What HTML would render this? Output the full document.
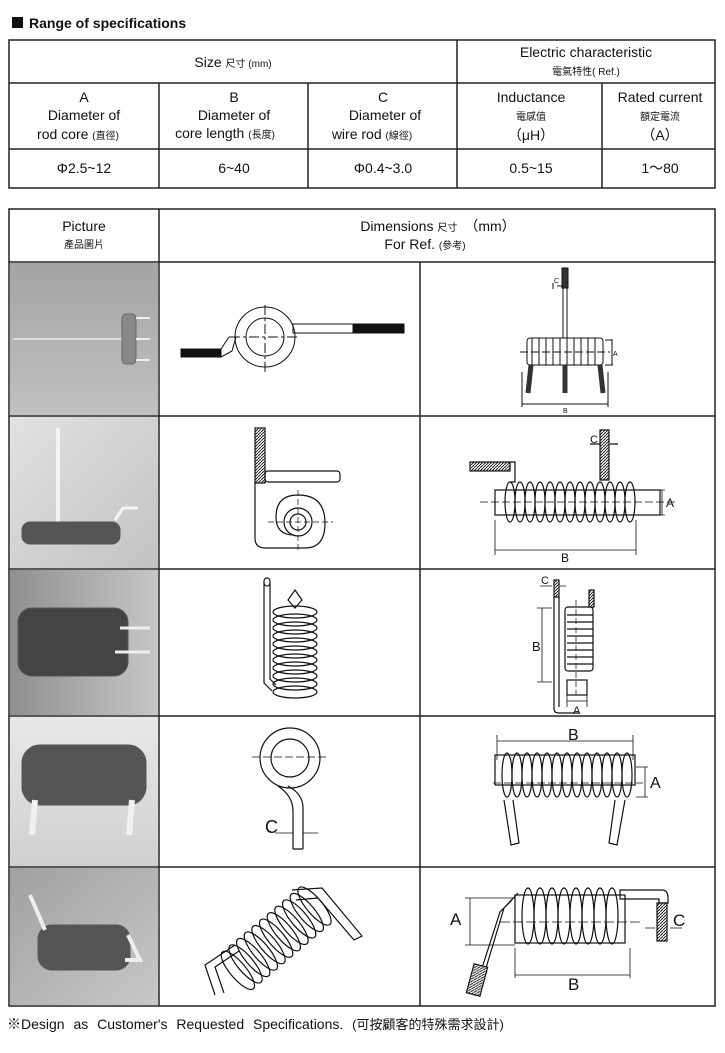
<!DOCTYPE html>
<html><head><meta charset="utf-8"><style>
html,body{margin:0;padding:0;background:#fff;}
svg{display:block;}
text{font-family:"Liberation Sans","Noto Sans CJK TC",sans-serif;fill:#111;stroke:none;}
.s{font-size:10px;}
.m{font-size:14px;}
</style></head><body>
<svg width="725" height="1053" viewBox="0 0 725 1053" xmlns="http://www.w3.org/2000/svg">
<defs>
<linearGradient id="g1" x1="0" y1="0" x2="0" y2="1"><stop offset="0" stop-color="#a4a4a4"/><stop offset="1" stop-color="#c0c0c0"/></linearGradient>
<linearGradient id="g2" x1="0" y1="0" x2="1" y2="1"><stop offset="0" stop-color="#e2e2e2"/><stop offset="1" stop-color="#c2c2c2"/></linearGradient>
<linearGradient id="g3" x1="0" y1="0" x2="1" y2="0"><stop offset="0" stop-color="#8f8f8f"/><stop offset="1" stop-color="#c6c6c6"/></linearGradient>
<linearGradient id="g4" x1="0" y1="0" x2="0" y2="1"><stop offset="0" stop-color="#e8e8e8"/><stop offset="1" stop-color="#d0d0d0"/></linearGradient>
<linearGradient id="g5" x1="0" y1="0" x2="1" y2="1"><stop offset="0" stop-color="#a0a0a0"/><stop offset="1" stop-color="#c8c8c8"/></linearGradient>
<pattern id="h" width="3" height="3" patternUnits="userSpaceOnUse"><rect width="3" height="3" fill="#fff"/><path d="M0 3L3 0" stroke="#222" stroke-width="1"/></pattern>
</defs>

<rect x="12" y="17" width="11" height="11" fill="#111"/>
<text x="29" y="28" style="font-size:14px;font-weight:bold">Range of specifications</text>

<g stroke="#222" stroke-width="1.5" fill="none">
<rect x="9" y="40" width="706" height="148"/>
<line x1="9" y1="83" x2="715" y2="83"/>
<line x1="9" y1="149" x2="715" y2="149"/>
<line x1="457" y1="40" x2="457" y2="188"/>
<line x1="159" y1="83" x2="159" y2="188"/>
<line x1="308" y1="83" x2="308" y2="188"/>
<line x1="602" y1="83" x2="602" y2="188"/>
</g>
<text x="233" y="67" text-anchor="middle" class="m">Size <tspan class="s">尺寸 (mm)</tspan></text>
<text x="586" y="57" text-anchor="middle" class="m">Electric characteristic</text>
<text x="586" y="75" text-anchor="middle" class="s">電氣特性( Ref.)</text>
<g class="m" text-anchor="middle">
<text x="84" y="102">A</text><text x="84" y="120">Diameter of</text><text x="78" y="139">rod core <tspan class="s">(直徑)</tspan></text>
<text x="234" y="102">B</text><text x="234" y="120">Diameter of</text><text x="225" y="138">core length <tspan class="s">(長度)</tspan></text>
<text x="383" y="102">C</text><text x="385" y="120">Diameter of</text><text x="372" y="139">wire rod <tspan class="s">(線徑)</tspan></text>
<text x="531" y="102">Inductance</text><text x="531" y="120" class="s">電感值</text><text x="531" y="140">（μH）</text>
<text x="660" y="102">Rated current</text><text x="660" y="120" class="s">額定電流</text><text x="660" y="140">（A）</text>
<text x="84" y="173">Φ2.5~12</text>
<text x="234" y="173">6~40</text>
<text x="383" y="173">Φ0.4~3.0</text>
<text x="531" y="173">0.5~15</text>
<text x="660" y="173">1～80</text>
</g>

<rect x="10" y="263" width="148" height="152" fill="url(#g1)"/>
<rect x="10" y="417" width="148" height="151" fill="url(#g2)"/>
<rect x="10" y="570" width="148" height="145" fill="url(#g3)"/>
<rect x="10" y="717" width="148" height="149" fill="url(#g4)"/>
<rect x="10" y="868" width="148" height="137" fill="url(#g5)"/>
<g stroke="#222" stroke-width="1.5" fill="none">
<rect x="9" y="209" width="706" height="797"/>
<line x1="9" y1="262" x2="715" y2="262"/>
<line x1="9" y1="416" x2="715" y2="416"/>
<line x1="9" y1="569" x2="715" y2="569"/>
<line x1="9" y1="716" x2="715" y2="716"/>
<line x1="9" y1="867" x2="715" y2="867"/>
<line x1="159" y1="209" x2="159" y2="1006"/>
<line x1="420" y1="262" x2="420" y2="1006"/>
</g>
<text x="84" y="231" text-anchor="middle" class="m">Picture</text>
<text x="84" y="248" text-anchor="middle" class="s">產品圖片</text>
<text x="438" y="231" text-anchor="middle" class="m">Dimensions <tspan class="s">尺寸</tspan>　（mm）</text>
<text x="425" y="249" text-anchor="middle" class="m">For Ref. <tspan class="s">(參考)</tspan></text>

<g stroke="#555" fill="none">
<line x1="13" y1="339" x2="140" y2="339" stroke="#ddd" stroke-width="2"/>
<rect x="122" y="314" width="14" height="50" rx="4" fill="#888" stroke="#666"/>
<path d="M136 318h14M136 360h14M136 339h14" stroke="#eee" stroke-width="2"/>
<path d="M58 428v95" stroke="#f4f4f4" stroke-width="4"/>
<rect x="22" y="522" width="98" height="22" rx="8" fill="#555"/>
<path d="M115 520l8-12h15" stroke="#f4f4f4" stroke-width="3"/>
<rect x="18" y="608" width="110" height="68" rx="14" fill="#444"/>
<path d="M120 628h30M115 652h35" stroke="#eee" stroke-width="3"/>
<rect x="22" y="745" width="124" height="60" rx="18" fill="#555"/>
<path d="M35 800l-3 35M132 800l-3 35" stroke="#f0f0f0" stroke-width="6"/>
<rect x="38" y="925" width="92" height="45" rx="14" fill="#555"/>
<path d="M30 895l15 35M128 935l12 25h-15" stroke="#eee" stroke-width="4"/>
</g>

<g stroke="#111" fill="none" stroke-width="1">
<circle cx="265" cy="337" r="30"/><circle cx="265" cy="337" r="19"/>
<path d="M230 337h70M265 305v67" stroke-dasharray="10 3 3 3"/>
<rect x="293" y="324" width="60" height="9"/>
<rect x="353" y="324" width="51" height="9" fill="#111"/>
<rect x="181" y="349" width="40" height="8" fill="#111"/>
<path d="M221 349l8-12h7l-4 14l-11 6z"/>
<rect x="562" y="268" width="6" height="20" fill="#333"/>
<path d="M563 288v50M567 288v50"/>
<path d="M557 286h6M553 283v6"/><text x="554" y="283" style="font-size:7px">C</text>
<rect x="527" y="338" width="76" height="27" rx="3"/>
<path d="M532 338v27M539 338v27M546 338v27M553 338v27M560 338v27M567 338v27M574 338v27M581 338v27M588 338v27M595 338v27"/>
<path d="M520 352h90" stroke-dasharray="8 3"/>
<path d="M531 365l-3 28M565 365v28M600 365l3 28" stroke-width="5" stroke="#333"/>
<path d="M522 372v35M608 372v35M522 404h86M605 340h8M605 365h8M612 340v25"/>
<text x="613" y="356" style="font-size:7px">A</text>
<text x="563" y="413" style="font-size:7px">B</text>
</g>

<g stroke="#111" fill="none" stroke-width="1.2">
<rect x="255" y="428" width="10" height="55" fill="url(#h)"/>
<path d="M255 483v55q0 10 10 10h40q20 0 20-25q0-28-27-28q-22 0-22 22q0 18 18 18"/>
<rect x="265" y="471" width="75" height="11" rx="3"/>
<circle cx="298" cy="522" r="14"/><circle cx="298" cy="522" r="8"/>
<path d="M298 490v60M268 522h65" stroke-dasharray="6 3" stroke-width=".7"/>
<rect x="470" y="462" width="40" height="9" fill="url(#h)"/>
<path d="M510 462h5v20h-5"/>
<rect x="600" y="430" width="9" height="50" fill="url(#h)"/>
<path d="M590 444h10M610 444h8"/><text x="590" y="443" style="font-size:11px">C</text>
<rect x="495" y="490" width="165" height="25"/>
<g>
<ellipse cx="510" cy="502" rx="5" ry="20"/><ellipse cx="520" cy="502" rx="5" ry="20"/><ellipse cx="530" cy="502" rx="5" ry="20"/><ellipse cx="540" cy="502" rx="5" ry="20"/><ellipse cx="550" cy="502" rx="5" ry="20"/><ellipse cx="560" cy="502" rx="5" ry="20"/><ellipse cx="570" cy="502" rx="5" ry="20"/><ellipse cx="580" cy="502" rx="5" ry="20"/><ellipse cx="590" cy="502" rx="5" ry="20"/><ellipse cx="600" cy="502" rx="5" ry="20"/><ellipse cx="610" cy="502" rx="5" ry="20"/><ellipse cx="620" cy="502" rx="5" ry="20"/><ellipse cx="630" cy="502" rx="5" ry="20"/>
</g>
<path d="M480 502h195" stroke-dasharray="8 3" stroke-width=".7"/>
<path d="M495 520v35M636 520v35M495 550h141M655 490h10M655 515h10M662 490v25" stroke-width=".8"/>
<text x="666" y="507" style="font-size:12px">A</text>
<text x="561" y="562" style="font-size:12px">B</text>
</g>

<g stroke="#111" fill="none" stroke-width="1.2">
<path d="M264 583v100l8 8M270 583v96l6 6"/>
<rect x="264" y="578" width="6" height="8" rx="3"/>
<ellipse cx="295" cy="612" rx="22" ry="6"/><ellipse cx="295" cy="620" rx="22" ry="6"/><ellipse cx="295" cy="628" rx="22" ry="6"/><ellipse cx="295" cy="636" rx="22" ry="6"/><ellipse cx="295" cy="644" rx="22" ry="6"/><ellipse cx="295" cy="652" rx="22" ry="6"/><ellipse cx="295" cy="660" rx="22" ry="6"/><ellipse cx="295" cy="668" rx="22" ry="6"/><ellipse cx="295" cy="676" rx="22" ry="6"/><ellipse cx="295" cy="684" rx="22" ry="6"/><ellipse cx="295" cy="692" rx="22" ry="6"/>
<path d="M288 600l7-10l7 10l-7 8z"/>
<rect x="554" y="580" width="5" height="17" fill="url(#h)"/>
<rect x="589" y="590" width="5" height="17" fill="url(#h)"/>
<path d="M554 597v112q0 4 5 4h20M559 597v110"/>
<rect x="565" y="607" width="28" height="64" rx="3"/>
<path d="M567 615h26M567 622h26M567 629h26M567 636h26M567 643h26M567 650h26M567 657h26M567 664h26"/>
<path d="M576 600v95" stroke-dasharray="6 3" stroke-width=".7"/>
<rect x="567" y="680" width="20" height="15"/>
<path d="M537 608h15M537 682h15M542 608v74M567 695v12M587 695v12M567 701h20M540 586h12M560 586h6" stroke-width=".8"/>
<text x="532" y="651" style="font-size:13px">B</text>
<text x="541" y="584" style="font-size:11px">C</text>
<text x="573" y="714" style="font-size:11px">A</text>
</g>

<g stroke="#111" fill="none" stroke-width="1.2">
<circle cx="290" cy="758" r="30"/><circle cx="290" cy="758" r="19"/>
<path d="M252 757h76" stroke-dasharray="8 3" stroke-width=".7"/>
<path d="M278 786q15 10 15 25v38M288 786q15 8 15 22v41M293 849h10"/>
<path d="M275 833h18M303 833h15" stroke-width=".8"/>
<text x="265" y="833" style="font-size:18px">C</text>
<rect x="495" y="755" width="140" height="30"/>
<g>
<ellipse cx="507" cy="775" rx="5" ry="22"/><ellipse cx="517" cy="775" rx="5" ry="22"/><ellipse cx="527" cy="775" rx="5" ry="22"/><ellipse cx="537" cy="775" rx="5" ry="22"/><ellipse cx="547" cy="775" rx="5" ry="22"/><ellipse cx="557" cy="775" rx="5" ry="22"/><ellipse cx="567" cy="775" rx="5" ry="22"/><ellipse cx="577" cy="775" rx="5" ry="22"/><ellipse cx="587" cy="775" rx="5" ry="22"/><ellipse cx="597" cy="775" rx="5" ry="22"/><ellipse cx="607" cy="775" rx="5" ry="22"/><ellipse cx="617" cy="775" rx="5" ry="22"/><ellipse cx="627" cy="775" rx="5" ry="22"/>
</g>
<path d="M493 783h150" stroke-dasharray="8 3" stroke-width=".7"/>
<path d="M504 800l7 45l8-2l-6-43M625 800l-8 45l-8-2l6-43"/>
<path d="M497 735v25M633 735v25M497 741h136M636 767h12M636 797h12M645 767v30" stroke-width=".8"/>
<text x="568" y="740" style="font-size:16px">B</text>
<text x="650" y="788" style="font-size:16px">A</text>
</g>

<g stroke="#111" fill="none" stroke-width="1.2">
<path d="M215 995l-10-30l30-20M224 993l-9-26l24-16"/>
<path d="M292 890l30-2l40 48l-8 4l-36-42l-22 2"/>
<g transform="rotate(-40 280 935)">
<ellipse cx="225" cy="935" rx="8" ry="24"/><ellipse cx="235" cy="935" rx="8" ry="24"/><ellipse cx="245" cy="935" rx="8" ry="24"/><ellipse cx="255" cy="935" rx="8" ry="24"/><ellipse cx="265" cy="935" rx="8" ry="24"/><ellipse cx="275" cy="935" rx="8" ry="24"/><ellipse cx="285" cy="935" rx="8" ry="24"/><ellipse cx="295" cy="935" rx="8" ry="24"/><ellipse cx="305" cy="935" rx="8" ry="24"/><ellipse cx="315" cy="935" rx="8" ry="24"/><ellipse cx="325" cy="935" rx="8" ry="24"/>
</g>
<rect x="515" y="895" width="110" height="48"/>
<g>
<ellipse cx="528" cy="916" rx="6" ry="28"/><ellipse cx="540" cy="916" rx="6" ry="28"/><ellipse cx="552" cy="916" rx="6" ry="28"/><ellipse cx="564" cy="916" rx="6" ry="28"/><ellipse cx="576" cy="916" rx="6" ry="28"/><ellipse cx="588" cy="916" rx="6" ry="28"/><ellipse cx="600" cy="916" rx="6" ry="28"/><ellipse cx="612" cy="916" rx="6" ry="28"/>
</g>
<path d="M500 922h140" stroke-dasharray="10 3" stroke-width=".7"/>
<path d="M620 890h42q6 0 6 8v5h-9v-4h-39z"/>
<rect x="657" y="903" width="10" height="38" fill="url(#h)"/>
<path d="M518 893l-14 15l-18 60M512 900l-12 12l-18 56"/>
<rect x="470" y="965" width="14" height="30" transform="rotate(15 477 980)" fill="url(#h)"/>
<path d="M465 898h50M465 945h50M470 898v47M515 948v30M630 948v30M515 975h115M645 928h10M670 928h12" stroke-width=".8"/>
<text x="450" y="925" style="font-size:17px">A</text>
<text x="568" y="990" style="font-size:17px">B</text>
<text x="673" y="926" style="font-size:17px">C</text>
</g>

<text x="7" y="1029" class="m" style="word-spacing:5px">※Design as Customer's Requested Specifications. <tspan style="font-size:13px;word-spacing:0">(可按顧客的特殊需求設計)</tspan></text>
</svg>
</body></html>
